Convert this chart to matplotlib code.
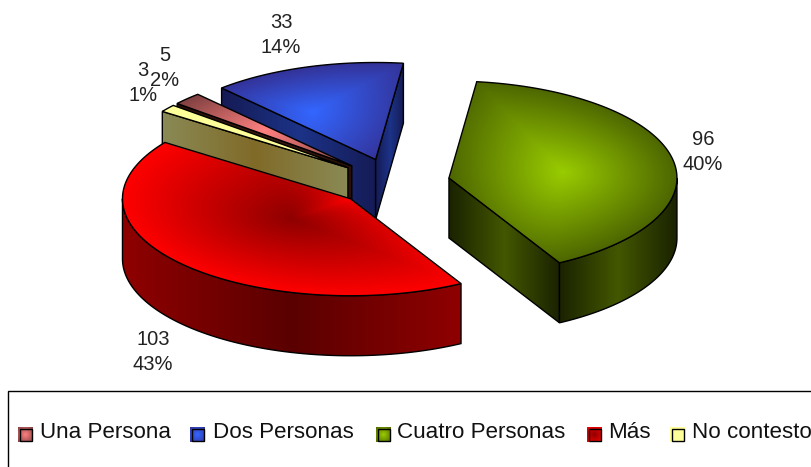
import numpy as np
import matplotlib
matplotlib.use("Agg")
import matplotlib.pyplot as plt
from matplotlib.colors import to_rgb
from matplotlib.patches import Polygon, Rectangle

plt.rcParams['font.family'] = ['Liberation Sans', 'DejaVu Sans']

categories = ["Una Persona", "Dos Personas", "Cuatro Personas", "Más", "No contesto"]
values = [5, 33, 96, 103, 3]

# colours: top centre, top edge, side ends, side middle
top_center = ["#FF8080", "#3366FF", "#99CC00", "#8F0000", "#FFFF99"]
top_edge = ["#804040", "#333399", "#4D6600", "#FF0000", "#FFFF99"]
side_end = ["#2A1008", "#151B55", "#1A2200", "#8F0000", "#8A8A55"]
side_mid = ["#3A1A10", "#1C3388", "#435700", "#5A0000", "#806A28"]

# pie geometry in pixels
cx, cy = 393, 182.6
rx, ry = 228, 97
depth = 60
explode = 0.25
start_angle = -50

draw_order = [1, 0, 4, 3, 2]
label_xy = [(165, 68), (281, 35), (703, 152), (153, 352), (143, 83)]
legend_swatch_x = [18, 190, 376, 587, 670]
legend_text_x = [40, 213, 397, 608, 692]

fig = plt.figure(figsize=(8.11, 4.67), dpi=100)
ax = fig.add_axes([0, 0, 1, 1])


def pt(t, r=1.0):
    a = np.radians(t)
    return np.array([rx * r * np.sin(a), -ry * r * np.cos(a)])


def paint(poly, rgb, z):
    poly = np.asarray(poly)
    x0, y0 = poly.min(axis=0)
    x1, y1 = poly.max(axis=0)
    im = ax.imshow(rgb, extent=[x0, x1, y1, y0], aspect='auto', interpolation='bilinear', zorder=z)
    im.set_clip_path(Polygon(poly, transform=ax.transData))
    ax.add_patch(Polygon(poly, fill=False, ec='black', lw=1.0, zorder=z + 0.5))


def path_gradient(poly, center, edge):
    # bright or dark spot in the middle of the bounding box, fading out along rays to the outline
    poly = np.asarray(poly)
    x0, y0 = poly.min(axis=0)
    x1, y1 = poly.max(axis=0)
    mx, my = (x0 + x1) / 2, (y0 + y1) / 2
    gx, gy = np.meshgrid(np.linspace(x0, x1, 300), np.linspace(y0, y1, 300))
    ang = np.arctan2(poly[:, 1] - my, poly[:, 0] - mx)
    rad = np.hypot(poly[:, 1] - my, poly[:, 0] - mx)
    order = np.argsort(ang)
    limit = np.interp(np.arctan2(gy - my, gx - mx), ang[order], rad[order], period=2 * np.pi)
    t = np.clip(np.hypot(gx - mx, gy - my) / np.maximum(limit, 1e-6), 0, 1)[..., None]
    return np.array(to_rgb(center)) * (1 - t) + np.array(to_rgb(edge)) * t


def axial_gradient(ends, mid):
    t = 1 - np.abs(np.linspace(-1, 1, 200))
    t = t.reshape(1, -1, 1)
    return np.array(to_rgb(ends)) * (1 - t) + np.array(to_rgb(mid)) * t


# slice angles from the values
sweep = np.array(values) / sum(values) * 360
starts = start_angle + np.concatenate([[0], np.cumsum(sweep)[:-1]])
ends = starts + sweep

z = 2
for i in draw_order:
    t0, t1 = starts[i], ends[i]
    mid = (t0 + t1) / 2
    apex = np.array([cx, cy]) + pt(mid, explode)
    down = np.array([0, depth])
    arc = np.array([apex + pt(t) for t in np.linspace(t0, t1, 120)])

    # radial side faces, only the ones turned to the viewer
    for t, normal in [(t0, t0 - 90), (t1, t1 + 90)]:
        if np.cos(np.radians(normal)) < 0:
            tip = apex + pt(t)
            paint([apex, tip, tip + down, apex + down], axial_gradient(side_end[i], side_mid[i]), z)
            z += 1

    # outer rim on the near half
    a, b = max(t0, 90), min(t1, 270)
    if a < b:
        rim = np.array([apex + pt(t) for t in np.linspace(a, b, 120)])
        paint(np.vstack([rim, rim[::-1] + down]), axial_gradient(side_end[i], side_mid[i]), z)
        z += 1

    top = np.vstack([[apex], arc])
    paint(top, path_gradient(top, top_center[i], top_edge[i]), z)
    z += 1

    pct = round(values[i] / sum(values) * 100)
    lx, ly = label_xy[i]
    ax.text(lx, ly, f"{values[i]}\n{pct}%", ha='center', va='center', fontsize=14.5,
            color='#222222', linespacing=1.42, zorder=100 + i)

# legend box runs off the right and bottom of the picture
ax.add_patch(Rectangle((8, 391), 830, 100, fc='white', ec='black', lw=1.0, zorder=1))
for i, name in enumerate(categories):
    x = legend_swatch_x[i]
    square = [(x, 427), (x + 15, 427), (x + 15, 442), (x, 442)]
    ax.imshow(path_gradient(square, top_center[i], top_edge[i]), extent=[x, x + 15, 442, 427],
              aspect='auto', zorder=60)
    ax.add_patch(Rectangle((x + 1.5, 428.5), 12, 12, fill=False, ec='black', lw=1.0, zorder=61))
    ax.text(legend_text_x[i], 433, name, ha='left', va='center', fontsize=16.1, color='#111111', zorder=62)

ax.set_xlim(0, 811)
ax.set_ylim(467, 0)
ax.axis('off')

fig.savefig("out.png", dpi=100)
